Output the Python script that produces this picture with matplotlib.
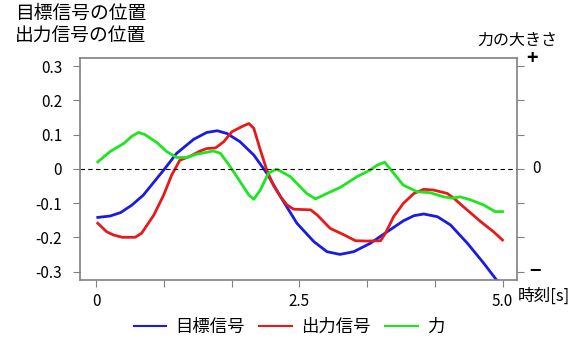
import numpy as np
import matplotlib.pyplot as plt
from matplotlib.lines import Line2D

plt.rcParams['font.family'] = ['Noto Sans CJK JP', 'DejaVu Sans']
plt.rcParams['axes.unicode_minus'] = False

# 目標信号
t_target = [0.02, 0.17, 0.30, 0.44, 0.58, 0.83, 0.99, 1.20, 1.36, 1.49, 1.61, 1.77, 1.94, 2.10,
            2.27, 2.47, 2.68, 2.84, 3.00, 3.17, 3.37, 3.58, 3.78, 3.91, 4.03, 4.20, 4.36, 4.57,
            4.77, 4.95]
v_target = [-0.142, -0.138, -0.128, -0.106, -0.077, -0.004, 0.045, 0.086, 0.106, 0.111, 0.103,
            0.079, 0.040, -0.013, -0.082, -0.159, -0.213, -0.242, -0.250, -0.242, -0.218, -0.184,
            -0.152, -0.137, -0.132, -0.140, -0.164, -0.218, -0.276, -0.332]

# 出力信号
t_output = [0.02, 0.13, 0.21, 0.32, 0.48, 0.56, 0.71, 0.83, 0.93, 1.03, 1.16, 1.28, 1.36, 1.47,
            1.57, 1.67, 1.80, 1.88, 1.94, 2.02, 2.10, 2.18, 2.27, 2.35, 2.43, 2.64, 2.72, 2.88,
            3.05, 3.19, 3.33, 3.50, 3.56, 3.66, 3.78, 3.91, 4.03, 4.15, 4.32, 4.40, 4.52, 4.73,
            4.89, 5.00]
v_output = [-0.159, -0.184, -0.193, -0.200, -0.200, -0.188, -0.135, -0.077, -0.018, 0.025, 0.037,
            0.052, 0.059, 0.061, 0.079, 0.108, 0.124, 0.132, 0.118, 0.055, -0.004, -0.048, -0.082,
            -0.106, -0.118, -0.120, -0.135, -0.174, -0.193, -0.210, -0.211, -0.210, -0.188, -0.140,
            -0.101, -0.072, -0.060, -0.062, -0.072, -0.086, -0.111, -0.154, -0.184, -0.208]

# 力
t_force = [0.02, 0.17, 0.34, 0.44, 0.52, 0.60, 0.75, 0.87, 0.99, 1.12, 1.24, 1.36, 1.44, 1.53,
           1.65, 1.80, 1.88, 1.94, 2.02, 2.12, 2.22, 2.39, 2.59, 2.70, 2.84, 3.00, 3.21, 3.37,
           3.46, 3.55, 3.66, 3.78, 3.95, 4.11, 4.28, 4.38, 4.48, 4.61, 4.77, 4.91, 5.00]
v_force = [0.020, 0.050, 0.074, 0.095, 0.106, 0.100, 0.076, 0.050, 0.033, 0.033, 0.043, 0.048,
           0.052, 0.045, 0.006, -0.048, -0.077, -0.089, -0.062, -0.013, -0.001, -0.023, -0.072,
           -0.088, -0.072, -0.055, -0.023, -0.004, 0.011, 0.019, -0.013, -0.048, -0.067, -0.070,
           -0.082, -0.086, -0.082, -0.091, -0.106, -0.125, -0.125]

yticks = [0.3, 0.2, 0.1, 0, -0.1, -0.2, -0.3]
ytick_labels = ['0.3', '0.2', '0.1', '0', '-0.1', '-0.2', '-0.3']
xticks = np.linspace(0, 5, 7)
xtick_labels = ['0', '', '', '2.5', '', '', '5.0']

c_blue, c_red, c_green = '#1a1ae6', '#e61a1a', '#1ee61e'

fig = plt.figure(figsize=(5.85, 3.42), dpi=100)
ax = fig.add_axes([0.137, 0.181, 0.747, 0.649])

ax.plot(t_target, v_target, color=c_blue, lw=2)
ax.plot(t_output, v_output, color=c_red, lw=2)
ax.plot(t_force, v_force, color=c_green, lw=2)
ax.axhline(0, color='black', lw=0.8, ls=(0, (4, 3)))

ax.set_xlim(-0.197, 5.18)
ax.set_ylim(-0.325, 0.323)
ax.set_xticks(xticks)
ax.set_xticklabels(xtick_labels)
ax.set_yticks(yticks)
ax.set_yticklabels(ytick_labels)
ax.tick_params(axis='both', direction='out', length=5, color='#808080', labelsize=11)
ax.tick_params(axis='y', pad=8, right=True)
ax.tick_params(axis='x', pad=4)
for s in ax.spines.values():
    s.set_color('#808080')
    s.set_linewidth(1.2)

# 右側の力の目盛り
ax.text(1.035, 1.0, '+', transform=ax.transAxes, fontsize=14, fontweight='bold', ha='center', va='center')
ax.annotate('0', xy=(1.0, 0), xycoords=('axes fraction', 'data'), xytext=(14, 0),
            textcoords='offset points', fontsize=11, ha='center', va='center')
ax.text(1.04, 0.04, '−', transform=ax.transAxes, fontsize=14, fontweight='bold', ha='center', va='center')

fig.text(0.026, 0.962, '目標信号の位置', fontsize=13.5, ha='left', va='center')
fig.text(0.026, 0.893, '出力信号の位置', fontsize=13.5, ha='left', va='center')
fig.text(0.884, 0.883, '力の大きさ', fontsize=11.5, ha='center', va='center')
fig.text(0.93, 0.133, '時刻[s]', fontsize=12, ha='center', va='center')

handles = [Line2D([], [], color=c_blue, lw=1.5),
           Line2D([], [], color=c_red, lw=1.5),
           Line2D([], [], color=c_green, lw=1.5)]
fig.legend(handles, ['目標信号', '出力信号', '力'], loc='center', bbox_to_anchor=(0.494, 0.045),
           ncol=3, frameon=False, fontsize=12.5, handlelength=1.85, columnspacing=0.85,
           handletextpad=0.55)

plt.savefig('out.png')
